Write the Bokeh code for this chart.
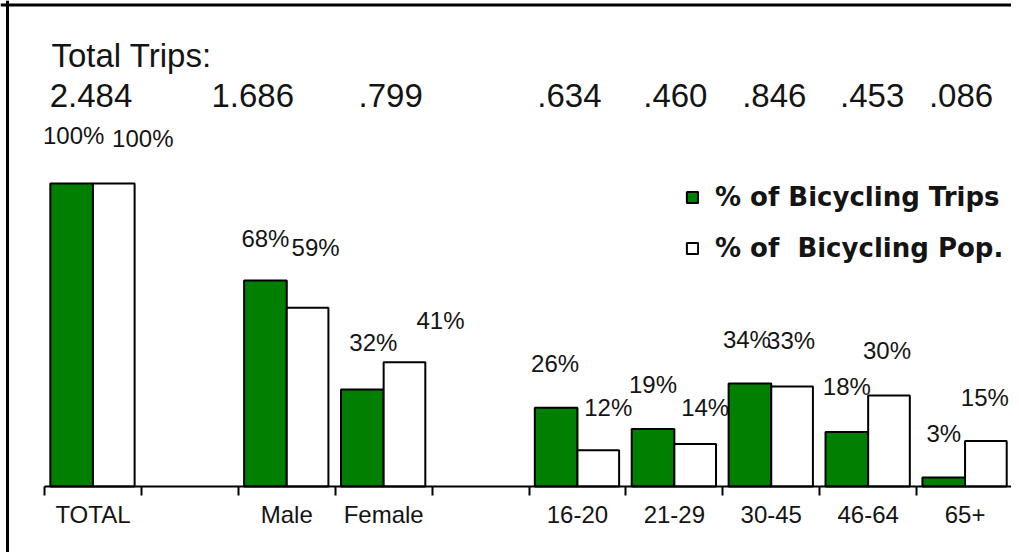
from bokeh.plotting import figure
from bokeh.models import (ColumnDataSource, LinearAxis, FixedTicker, Span, Label,
                          Legend, LegendItem, Range1d, Grid)
from bokeh.core.properties import value
from bokeh.embed import file_html
from bokeh.resources import INLINE

# ---------------- data ----------------
axis_labels = ["TOTAL", "", "Male", "Female", "", "16-20", "21-29", "30-45", "46-64", "65+"]
groups = ["TOTAL", "Male", "Female", "16-20", "21-29", "30-45", "46-64", "65+"]
trips_pct = [100, 68, 32, 26, 19, 34, 18, 3]
pop_pct = [100, 59, 41, 12, 14, 33, 30, 15]
total_trips = [2.484, 1.686, 0.799, 0.634, 0.460, 0.846, 0.453, 0.086]
title_text = "Total Trips:"
legend_labels = ["% of Bicycling Trips", "% of  Bicycling Pop."]

# ---------------- style ----------------
GREEN = "#007f00"
INK = "#141414"
FONT = "Liberation Sans"
trip_dx = [2, 0, 11, -1, 0, -3, 0, 0]
trip_dy = [-48, -42, -47, -44, -44, -44, -45, -44]
pop_dx = [29, 8, 36, 10, 10, -1, -2, -1]
pop_dy = [-45, -60, -42, -43, -37, -46, -45, -44]
tot_dx = [-2, -34, 7, -8, 1, 3, 4, -4]

W, H = 1011, 552
PX_X = 96.9   # px per category slot
PX_Y = 3.03   # px per percent
X0_PX = 44    # px of slot boundary 0
BASE_PX = 486 # px of baseline from top

idx = [axis_labels.index(g) for g in groups]

p = figure(width=W, height=H, output_backend="svg", toolbar_location=None,
           x_axis_location=None, y_axis_location=None,
           min_border=0, min_border_left=0, min_border_right=0,
           min_border_top=0, min_border_bottom=0)
p.x_range = Range1d(-X0_PX / PX_X, (W - X0_PX) / PX_X)
p.y_range = Range1d(-(H - BASE_PX) / PX_Y, BASE_PX / PX_Y)
p.outline_line_color = None
p.background_fill_color = "white"
p.border_fill_color = "white"
for r in list(p.center):
    if isinstance(r, Grid):
        r.visible = False

src = ColumnDataSource(dict(
    xg=[i + 0.28 for i in idx],
    xw=[i + 0.715 for i in idx],
    trips=trips_pct,
    pop=pop_pct,
    trips_lbl=[f"{v}%" for v in trips_pct],
    pop_lbl=[f"{v}%" for v in pop_pct],
    tdx=trip_dx, tdy=trip_dy, pdx=pop_dx, pdy=pop_dy,
))

rg = p.vbar(x="xg", top="trips", bottom=0, width=0.44, source=src,
            fill_color=GREEN, line_color="black", line_width=2)
rw = p.vbar(x="xw", top="pop", bottom=0, width=0.43, source=src,
            fill_color="white", line_color="black", line_width=2)

p.text(x="xg", y="trips", text="trips_lbl", x_offset="tdx", y_offset="tdy", source=src,
       text_font=value(FONT), text_font_size="24px", text_color=INK,
       text_align="center", text_baseline="middle")
p.text(x="xw", y="pop", text="pop_lbl", x_offset="pdx", y_offset="pdy", source=src,
       text_font=value(FONT), text_font_size="24px", text_color=INK,
       text_align="center", text_baseline="middle")

# totals row
tsrc = ColumnDataSource(dict(
    x=[i + 0.5 for i in idx],
    y=[(BASE_PX - 95) / PX_Y] * len(idx),
    t=[(f"{v:.3f}".lstrip("0")) for v in total_trips],
    dx=tot_dx,
))
p.text(x="x", y="y", text="t", x_offset="dx", source=tsrc,
       text_font=value(FONT), text_font_size="33px", text_color=INK,
       text_align="center", text_baseline="middle")

p.add_layout(Label(x=51, y=H - 55, x_units="screen", y_units="screen", text=title_text,
                   text_font=FONT, text_font_size="33px", text_color=INK,
                   text_align="left", text_baseline="middle"))

# x axis: labels at slot centres, tick marks at slot boundaries
centers = [i + 0.5 for i in range(len(axis_labels))]
bounds_ticks = list(range(len(axis_labels) + 1))
ax = LinearAxis(ticker=FixedTicker(ticks=centers, minor_ticks=bounds_ticks),
                fixed_location=0, bounds=(0, len(axis_labels)))
ax.major_label_overrides = {c: lab for c, lab in zip(centers, axis_labels)}
ax.major_tick_line_color = None
ax.major_tick_out = 0
ax.major_tick_in = 0
ax.minor_tick_out = 9
ax.minor_tick_in = 0
ax.minor_tick_line_width = 2
ax.minor_tick_line_color = "black"
ax.axis_line_width = 2
ax.axis_line_color = "black"
ax.major_label_standoff = 5
ax.major_label_text_font = FONT
ax.major_label_text_font_size = "24px"
ax.major_label_text_color = INK
p.add_layout(ax, "below")

# frame lines (left and top)
p.add_layout(Span(location=p.x_range.start + 7 / PX_X, dimension="height",
                  line_color="black", line_width=3))
p.add_layout(Span(location=p.y_range.end - 4.5 / PX_Y, dimension="width",
                  line_color="black", line_width=3))

legend = Legend(items=[LegendItem(label=legend_labels[0], renderers=[rg]),
                       LegendItem(label=legend_labels[1], renderers=[rw])],
                location=(685, H - 263), orientation="vertical",
                glyph_width=14, glyph_height=14, label_standoff=16,
                label_text_font="DejaVu Sans", label_text_font_style="bold",
                label_text_font_size="26px", label_text_color=INK,
                label_height=14, spacing=21, padding=0, margin=0,
                border_line_color=None, background_fill_alpha=0)
p.add_layout(legend, "center")

open("out.html", "w").write(file_html(p, INLINE))
